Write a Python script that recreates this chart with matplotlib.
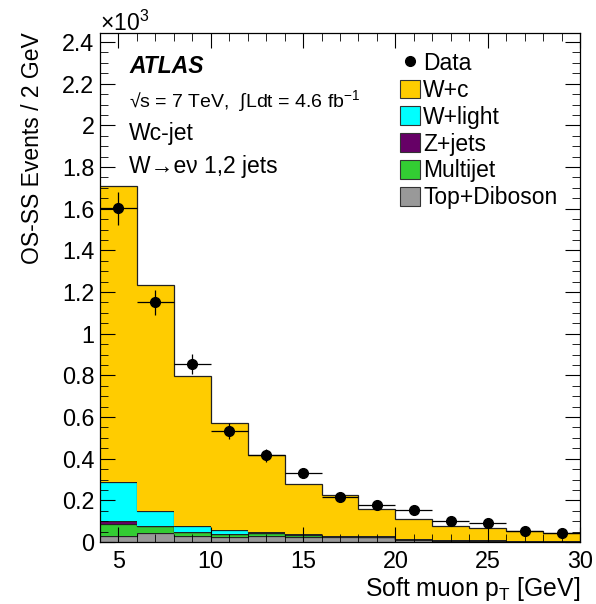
import numpy as np
import matplotlib
matplotlib.use("Agg")
import matplotlib.pyplot as plt
from matplotlib.patches import Patch
from matplotlib.lines import Line2D
from matplotlib.ticker import MultipleLocator, FormatStrFormatter

plt.rcParams['font.family'] = ['Liberation Sans', 'DejaVu Sans']
plt.rcParams['mathtext.fontset'] = 'custom'
plt.rcParams['mathtext.rm'] = 'Liberation Sans'
plt.rcParams['mathtext.it'] = 'Liberation Sans:italic'

# soft muon pT bins [GeV], 2 GeV wide
edges = np.arange(4, 32, 2)
centers = edges[:-1] + 1

# OS-SS events / 2 GeV, in units of 10^3
data = [1.602, 1.150, 0.855, 0.533, 0.416, 0.331, 0.218, 0.176, 0.154, 0.102, 0.093, 0.054, 0.042]
data_err = [0.080, 0.061, 0.048, 0.038, 0.030, 0.025, 0.021, 0.019, 0.017, 0.015, 0.013, 0.011, 0.010]

top_diboson = [0.029, 0.042, 0.029, 0.025, 0.029, 0.026, 0.026, 0.025, 0.010, 0.007, 0.006, 0.004, 0.003]
multijet = [0.057, 0.033, 0.018, 0.012, 0.012, 0.008, 0.002, 0.001, 0.004, 0.002, 0.002, 0.001, 0.001]
zjets = [0.013, 0.004, 0.002, 0.002, 0.002, 0.002, 0.001, 0.001, 0.001, 0.001, 0.001, 0.000, 0.000]
wlight = [0.189, 0.071, 0.026, 0.017, 0.005, 0.001, 0.001, 0.001, 0.001, 0.001, 0.001, 0.001, 0.001]
wc = [1.421, 1.082, 0.723, 0.516, 0.370, 0.241, 0.194, 0.129, 0.093, 0.068, 0.057, 0.046, 0.037]

labels = ['W+c', 'W+light', 'Z+jets', 'Multijet', 'Top+Diboson']
colors = ['#ffcc00', '#00ffff', '#660066', '#33cc33', '#999999']

fig = plt.figure(figsize=(5.96, 6.04), dpi=100)
ax = fig.add_axes([100/596, 62/604, 480/596, 509/604])

# stack from the bottom up
layers = [top_diboson, multijet, zjets, wlight, wc]
layer_colors = colors[::-1]
bottom = np.zeros(len(centers))
for vals, col in zip(layers, layer_colors):
    top = bottom + np.array(vals)
    ax.stairs(top, edges, baseline=bottom, fill=True, facecolor=col, edgecolor='none')
    ax.stairs(top, edges, baseline=None, color='#222222', lw=0.9)
    bottom = top

ax.errorbar(centers, data, yerr=data_err, xerr=1, fmt='o', color='k', ms=7,
            elinewidth=0.9, capsize=0, zorder=5)

ax.set_xlim(4, 30)
ax.set_ylim(0, 2.4436)
ax.xaxis.set_major_locator(MultipleLocator(5))
ax.xaxis.set_minor_locator(MultipleLocator(1))
ax.yaxis.set_major_locator(MultipleLocator(0.2))
ax.yaxis.set_minor_locator(MultipleLocator(0.05))
ax.yaxis.set_major_formatter(FormatStrFormatter('%g'))
ax.tick_params(which='both', direction='in', top=True, right=True, labelsize=16.8)
ax.tick_params(which='major', length=11)
ax.tick_params(which='minor', length=5.5)
ax.tick_params(axis='x', pad=6)
ax.tick_params(axis='y', pad=4)
for s in ax.spines.values():
    s.set_linewidth(0.9)

fig.text(580/596, 1 - 596/604, r'Soft muon p$_\mathregular{T}$ [GeV]', ha='right',
         va='baseline', fontsize=17.8)
fig.text(33/596, 1 - 32/604, 'OS-SS Events / 2 GeV', rotation=90, ha='center',
         va='top', fontsize=16.5)
fig.text(100/596, 1 - 31/604, r'$\times$10$^{3}$', ha='left', va='baseline', fontsize=16.5)

# labels inside the frame
ax.text(0.0604, 0.9214, 'ATLAS', transform=ax.transAxes, fontsize=16.5,
        fontweight='bold', fontstyle='italic', va='baseline')
ax.text(0.0604, 0.8546, r'√s = 7 TeV,  ∫Ldt = 4.6 fb$^{-1}$', transform=ax.transAxes,
        fontsize=14, va='baseline')
ax.text(0.0604, 0.7898, 'Wc-jet', transform=ax.transAxes, fontsize=16.5, va='baseline')
ax.text(0.0604, 0.7250, 'W→eν 1,2 jets', transform=ax.transAxes, fontsize=16.5,
        va='baseline')

handles = [Line2D([], [], marker='o', color='k', ls='none', ms=7)]
for lab, col in zip(labels, colors):
    handles.append(Patch(facecolor=col, edgecolor='#333333', lw=0.8))
ax.legend(handles, ['Data'] + labels, loc='upper left', bbox_to_anchor=(0.625, 0.963),
          frameon=False, fontsize=16.5, handlelength=0.87, handleheight=0.87,
          handletextpad=0.15, labelspacing=0.17, borderpad=0, borderaxespad=0)

fig.savefig('out.png', dpi=100)
